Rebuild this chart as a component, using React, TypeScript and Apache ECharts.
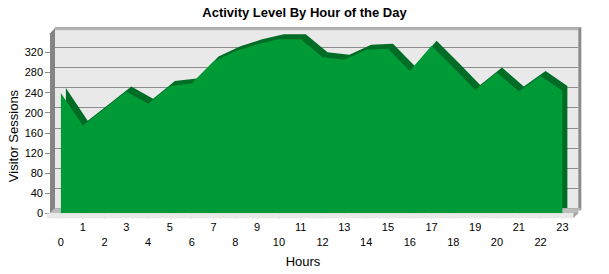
import React, { useEffect, useRef } from "react";
import * as echarts from "echarts";

const hours = ["0","1","2","3","4","5","6","7","8","9","10","11","12","13","14","15","16","17","18","19","20","21","22","23"];
const sessions = [239, 174, 208, 242, 218, 253, 258, 302, 322, 336, 346, 346, 310, 305, 325, 327, 283, 333, 290, 245, 280, 242, 273, 243];
const yMin = 0;
const yMax = 360;
const yStep = 40;

const FONT = "Liberation Sans, Arial, sans-serif";

export default function App() {
  const ref = useRef<HTMLDivElement>(null);
  useEffect(() => {
    if (!ref.current) return;
    const chart = echarts.init(ref.current, undefined, { renderer: "svg" });
    const fx = 50, fy = 32.2, fw = 523.3, fh = 181.1, d = 5;
    const bx = fx + d, by = fy - d;
    const fb = fy + fh; // front bottom
    const bb = by + fh; // back bottom
    chart.setOption({
      animation: false,
      backgroundColor: "#ffffff",
      textStyle: { fontFamily: FONT },
      title: {
        text: "Activity Level By Hour of the Day",
        left: "center",
        top: 6,
        padding: 0,
        textStyle: { fontSize: 13, fontWeight: "bold", color: "#000", fontFamily: FONT },
      },
      grid: [
        { left: fx, top: fy, width: fw, height: fh, show: false },
        { left: bx, top: by, width: fw, height: fh, show: true, backgroundColor: "#e9e9e9", borderWidth: 0 },
      ],
      xAxis: [
        {
          type: "category",
          gridIndex: 0,
          data: hours,
          boundaryGap: true,
          axisLine: { show: false },
          axisTick: { show: true, alignWithLabel: true, length: 5, lineStyle: { color: "#8a8a8a" } },
          axisLabel: {
            interval: 0,
            margin: 6,
            fontSize: 11,
            lineHeight: 15,
            color: "#000",
            fontFamily: FONT,
            formatter: (v: string, i: number) => (i % 2 === 0 ? "\n" + v : v),
          },
          splitLine: { show: false },
        },
        {
          type: "category",
          gridIndex: 1,
          data: hours,
          boundaryGap: true,
          show: false,
        },
      ],
      yAxis: [
        {
          type: "value",
          gridIndex: 0,
          min: yMin,
          max: yMax,
          interval: yStep,
          axisLine: { show: false },
          axisTick: { show: true, length: 5, lineStyle: { color: "#8a8a8a" } },
          axisLabel: { showMaxLabel: false, margin: 7, fontSize: 11, color: "#000", fontFamily: FONT },
          splitLine: { show: false },
        },
        {
          type: "value",
          gridIndex: 1,
          min: yMin,
          max: yMax,
          interval: yStep,
          axisLine: { show: false },
          axisTick: { show: false },
          axisLabel: { show: false },
          splitLine: { show: true, lineStyle: { color: "#8c8c8c", width: 1 } },
        },
      ],
      graphic: [
        { type: "rect", z: 1, shape: { x: bx, y: by, width: fw, height: 3 }, style: { fill: "#b4b4b4" } },
        { type: "polygon", z: 1, shape: { points: [[fx, fy + 1], [bx, by + 1], [bx, bb], [fx, fb]] }, style: { fill: "#858585" } },
        { type: "polygon", z: 1, shape: { points: [[fx - 3, fy + 4], [fx, fy + 1], [bx, by], [bx, by + 1]] }, style: { fill: "#c8c8c8" } },
        { type: "rect", z: 1, shape: { x: bx + fw, y: by, width: 3, height: fh + 2 }, style: { fill: "#8a8a8a" } },
        { type: "polygon", z: 1, shape: { points: [[fx, fb], [bx, bb], [bx + fw + 3, bb], [fx + fw + 3, fb]] }, style: { fill: "#bdbdbd" } },
        { type: "rect", z: 1, shape: { x: fx - 3, y: fb, width: fw + 3, height: 5 }, style: { fill: "#e9e9e9" } },
        { type: "polygon", z: 1, shape: { points: [[fx + fw, fb], [fx + fw + d, bb + 3], [fx + fw + d, bb + 5], [fx + fw, fb + 5]] }, style: { fill: "#a8a8a8" } },
        {
          type: "text",
          z: 5,
          x: 303,
          y: 261,
          style: { text: "Hours", fill: "#000", font: "13px " + FONT, textAlign: "center", textVerticalAlign: "middle" },
        },
        {
          type: "text",
          z: 5,
          x: 13,
          y: 136,
          rotation: Math.PI / 2,
          style: { text: "Visitor Sessions", fill: "#000", font: "13px " + FONT, textAlign: "center", textVerticalAlign: "middle" },
        },
      ],
      series: [
        {
          type: "line",
          xAxisIndex: 1,
          yAxisIndex: 1,
          data: sessions,
          symbol: "none",
          z: 3,
          lineStyle: { width: 0 },
          itemStyle: { color: "#006d27" },
          areaStyle: { color: "#006d27", opacity: 1 },
        },
        {
          type: "line",
          xAxisIndex: 0,
          yAxisIndex: 0,
          data: sessions,
          symbol: "none",
          z: 4,
          lineStyle: { width: 0 },
          itemStyle: { color: "#009a36" },
          areaStyle: { color: "#009a36", opacity: 1 },
        },
      ],
    });
    return () => chart.dispose();
  }, []);
  return <div ref={ref} style={{ position: "fixed", left: 0, top: 0, width: 609, height: 274 }} />;
}
